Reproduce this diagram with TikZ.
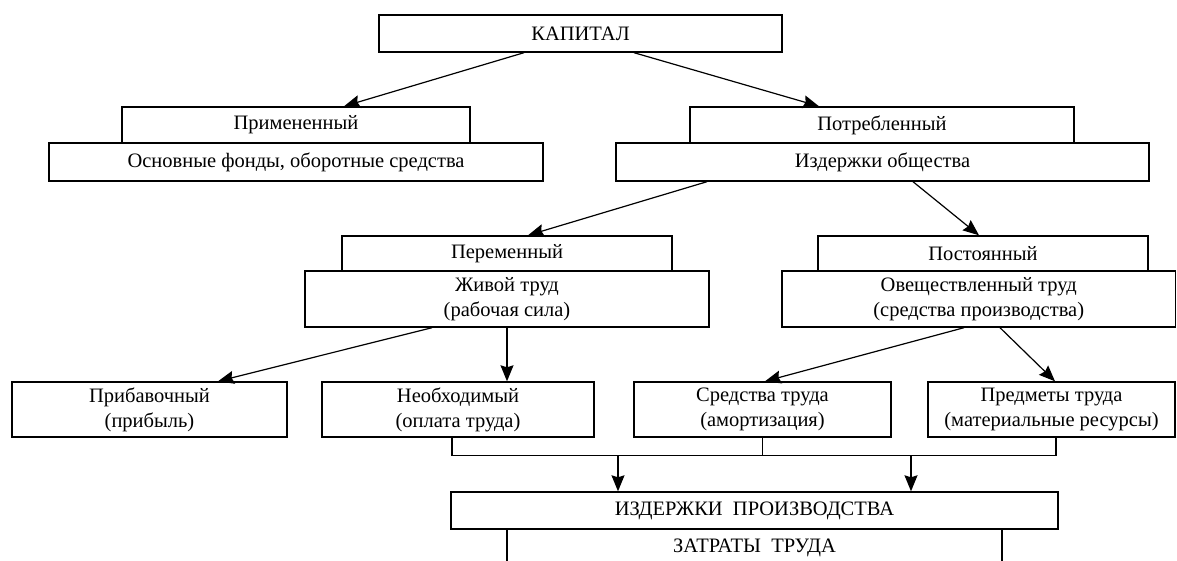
\documentclass[tikz,border=0pt]{standalone}
\usepackage{fontspec}
\setmainfont{Liberation Serif}
\usetikzlibrary{arrows.meta,positioning}
\tikzset{
    box/.style={
        draw=black,
        fill=white,
        rectangle,
        align=center,
        inner sep=0pt,
        line width=1.4pt,
        font=\fontsize{20.5}{25}\selectfont
    },
    arrow/.style={
        -{Stealth[length=16pt,width=13pt,inset=2pt]},
        line width=1.2pt,
        color=black
    },
    bus/.style={
        line width=1.2pt,
        color=black
    }
}
\begin{document}
\begin{tikzpicture}[x=1pt,y=-1pt]
    \clip (0,0) rectangle (1177,561);

    % Capital
    \node[box, minimum width=403pt, minimum height=37pt] (kap) at (580.5,33.5) {КАПИТАЛ};

    % Applied / consumed
    \node[box, minimum width=348pt, minimum height=36pt] (prim) at (296,125) {Примененный};
    \node[box, minimum width=494pt, minimum height=38pt] (osn) at (296,162) {Основные фонды, оборотные средства};
    \node[box, minimum width=384pt, minimum height=36pt] (potr) at (882,125) {Потребленный};
    \node[box, minimum width=533pt, minimum height=38pt] (izdob) at (882.5,162) {Издержки общества};

    % Variable / constant
    \node[box, minimum width=330pt, minimum height=35pt] (perem) at (507,253.5) {Переменный};
    \node[box, minimum width=404pt, minimum height=56pt] (zhiv) at (507,299) {Живой труд\\(рабочая сила)};
    \node[box, minimum width=330pt, minimum height=35pt] (post) at (983,253.5) {Постоянный};
    \node[box, minimum width=393.5pt, minimum height=56pt] (ovesh) at (978.75,299) {Овеществленный труд\\(средства производства)};

    % Bottom row
    \node[box, minimum width=275pt, minimum height=55pt] (prib) at (149.5,409.5) {Прибавочный\\(прибыль)};
    \node[box, minimum width=272pt, minimum height=55pt] (neob) at (458,409.5) {Необходимый\\(оплата труда)};
    \node[box, minimum width=257pt, minimum height=55pt] (sredtr) at (762.5,409.5) {Средства труда\\(амортизация)};
    \node[box, minimum width=247pt, minimum height=55pt] (predm) at (1051.5,409.5) {Предметы труда\\(материальные ресурсы)};

    % Production costs
    \node[box, minimum width=607pt, minimum height=37pt] (izdpr) at (754.5,510.5) {ИЗДЕРЖКИ~ ПРОИЗВОДСТВА};
    \node[box, minimum width=495pt, minimum height=38pt] (zatr) at (754.5,548) {ЗАТРАТЫ~ ТРУДА};

    % Arrows
    \draw[arrow] ([xshift=-56.5pt]kap.south) -- ([xshift=48pt]prim.north);
    \draw[arrow] ([xshift=53.5pt]kap.south) -- ([xshift=-63pt]potr.north);
    \draw[arrow] ([xshift=-175.5pt]izdob.south) -- ([xshift=21pt]perem.north);
    \draw[arrow] ([xshift=30.5pt]izdob.south) -- ([xshift=-4pt]post.north);
    \draw[arrow] ([xshift=-75pt]zhiv.south) -- ([xshift=68.5pt]prib.north);
    \draw[arrow] (zhiv.south) -- ([xshift=49pt]neob.north);
    \draw[arrow] ([xshift=-14.75pt]ovesh.south) -- ([xshift=2.5pt]sredtr.north);
    \draw[arrow] ([xshift=21.25pt]ovesh.south) -- ([xshift=3.5pt]predm.north);

    % Collecting line
    \coordinate (busL) at (452,455.5);
    \coordinate (busR) at (1056,455.5);
    \coordinate (busA) at (618,455.5);
    \coordinate (busB) at (911,455.5);
    \draw[bus] (busL |- neob.south) -- (busL) -- (busR) -- (busR |- predm.south);
    \draw[bus] (sredtr.south) -- (sredtr.south |- busL);
    \draw[arrow] (busA) -- (busA |- izdpr.north);
    \draw[arrow] (busB) -- (busB |- izdpr.north);
\end{tikzpicture}
\end{document}
